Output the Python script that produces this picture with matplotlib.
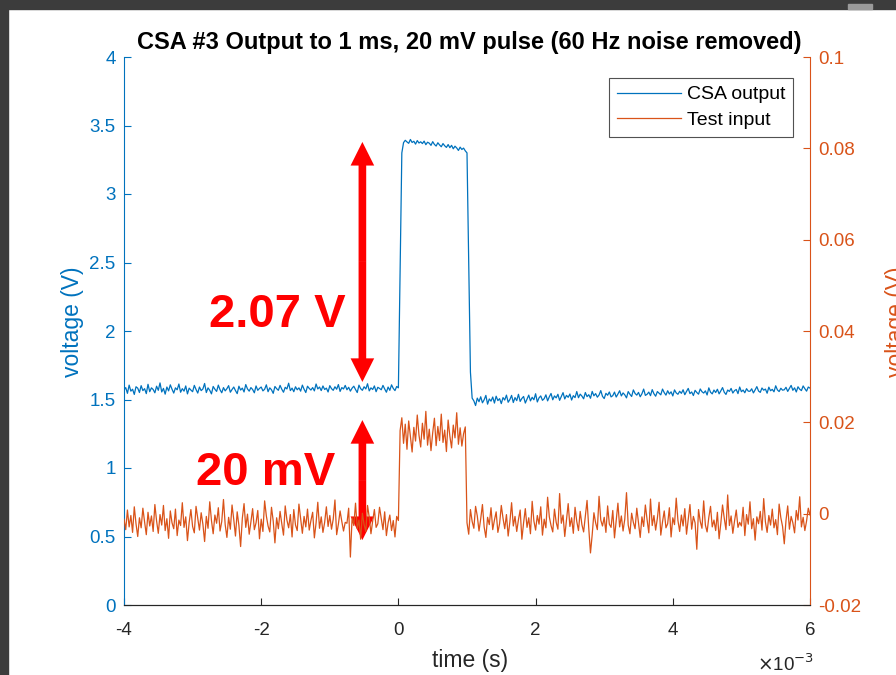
import numpy as np
import matplotlib
matplotlib.use("Agg")
import matplotlib.pyplot as plt
from matplotlib.patches import Rectangle, FancyArrowPatch, ArrowStyle
from matplotlib.ticker import FuncFormatter

plt.rcParams['font.family'] = ['Liberation Sans', 'DejaVu Sans']
plt.rcParams['axes.unicode_minus'] = False

# ---------------- data ----------------
sample_step_s = 25e-6
start_s = -4e-3

# CSA output (mV)
csa_pre_mV = [
    1569,1587,1545,1605,1561,1575,1537,1593,1583,1551,
    1601,1565,1579,1543,1611,1557,1585,1573,1549,1597,
    1567,1621,1555,1581,1539,1591,1563,1607,1575,1547,
    1585,1571,1613,1553,1579,1561,1599,1541,1583,1569,
    1557,1603,1573,1547,1591,1565,1577,1617,1551,1585,
    1567,1541,1595,1575,1559,1605,1571,1549,1587,1563,
    1579,1601,1553,1573,1591,1565,1543,1597,1569,1583,
    1555,1609,1577,1561,1587,1573,1549,1599,1567,1581,
    1591,1563,1575,1607,1557,1585,1571,1545,1595,1579,
    1567,1603,1575,1553,1589,1577,1619,1565,1583,1557,
    1593,1571,1585,1561,1605,1575,1551,1597,1581,1569,
    1587,1563,1613,1577,1591,1565,1599,1573,1583,1555,
    1601,1579,1567,1593,1575,1609,1559,1587,1577,1603,
    1571,1589,1561,1583,1597,1573,1551,1605,1579,1567,
    1593,1577,1615,1563,1585,1573,1599,1557,1589,1581,
    1571,1603,1577,1553,1591,1567,1607,1581,1565,1595,
]
csa_pulse_mV = [
    1585,2450,3300,3375,
    3392,3380,3370,3398,3376,3385,3364,3390,3372,3381,
    3368,3386,3360,3378,3371,3355,3382,3362,3350,3374,
    3358,3345,3368,3352,3340,3361,3338,3355,3330,3349,
    3336,3318,3342,3325,3335,3315,
]
csa_post_mV = [
    3300,2500,1700,1510,1490,
    1456,1510,1484,1520,1476,1498,1530,1466,1504,1488,1518,1474,1524,1492,1506,1470,1514,1496,1532,1480,
    1500,1530,1478,1514,1492,1538,1486,1508,1522,1474,1504,1532,1490,1516,1498,1542,1482,1512,1526,1494,
    1506,1534,1490,1520,1544,1498,1526,1512,1538,1494,1522,1550,1504,1530,1516,1540,1496,1528,1514,1558,
    1513,1539,1525,1505,1551,1521,1535,1509,1559,1527,1543,1517,1533,1565,1523,1507,1545,1531,1555,1519,
    1528,1554,1518,1540,1564,1526,1548,1534,1512,1558,1538,1522,1570,1544,1532,1552,1520,1542,1576,1530,
    1538,1554,1528,1572,1542,1524,1558,1546,1534,1576,1550,1532,1564,1540,1556,1526,1570,1548,1538,1560,
    1545,1571,1535,1559,1581,1543,1555,1529,1567,1551,1539,1577,1557,1547,1563,1533,1585,1553,1541,1569,
    1551,1575,1541,1563,1587,1553,1537,1569,1559,1581,1547,1565,1573,1543,1591,1557,1569,1549,1579,1561,
    1560,1578,1548,1570,1594,1562,1552,1584,1568,1576,1546,1590,1564,1574,1556,1600,1570,1558,1582,1568,
    1571,1589,1559,1581,1603,1567,1585,1555,1593,1575,1565,1599,1579,1561,1591,1583,
]

# Test input (mV)
test_pre_mV = [
    -1.2,-3.5,0.8,-2.9,-0.4,-4.1,1.5,-2.2,-5.0,-0.9,
    -3.1,1.2,-1.8,-4.6,0.3,-2.7,-0.5,-3.9,2.0,-1.6,
    -4.3,-0.2,-2.5,1.8,-3.7,-1.1,-5.4,0.6,-2.0,-3.3,
    1.0,-4.8,-1.4,-2.6,2.4,-3.0,-0.7,-5.9,-1.9,0.9,
    -2.8,-4.2,1.6,-1.0,-3.6,0.2,-2.3,-6.1,-0.6,-3.2,
    2.6,-1.5,-4.4,-0.3,-2.1,1.3,-3.8,-1.7,3.1,-2.4,
    -5.2,-0.8,-3.4,1.9,-1.3,-4.9,0.4,-2.6,-7.2,-1.0,
    2.2,-3.0,-0.1,-4.5,-1.8,1.1,-3.5,-2.0,0.7,-5.5,
    -1.2,-3.9,2.8,-0.5,-2.7,-4.0,1.4,-1.6,-6.4,-0.9,
    -3.3,0.5,-2.2,-4.7,1.7,-1.4,-3.1,-0.2,-5.1,0.9,
    -2.5,-3.7,2.1,-1.1,-4.3,-0.6,-2.9,1.0,-3.6,-1.5,
    0.3,-5.3,-2.0,2.5,-3.2,-0.7,-4.1,-1.9,1.5,-2.8,
    -0.4,-3.4,-1.2,3.0,-4.6,-2.3,0.6,-1.7,-3.8,-1.9,
    -2.1,1.2,-9.5,-0.9,-2.6,2.3,-3.3,-1.4,-5.6,0.1,
    -2.4,-3.9,1.8,-0.8,-4.4,-1.6,0.9,-3.0,-2.2,1.4,
    -1.1,-3.5,0.4,-4.8,-2.0,-0.3,-3.7,-1.5,-5.1,-0.6,
]
test_pulse_mV = [
    -1.5,
    18.2,21.0,15.4,19.6,14.1,20.3,16.8,13.5,18.9,
    15.9,21.6,17.2,14.6,19.8,16.3,22.4,15.0,18.5,13.8,
    17.7,20.9,14.9,19.1,16.0,21.8,15.6,18.3,13.6,20.5,
    17.0,14.4,19.4,16.6,22.1,15.2,18.8,14.8,17.5,19.0,
]
test_post_mV = [
    -2.0,-4.5,0.9,-1.7,-3.2,1.6,-0.5,-3.8,-1.1,2.0,-2.9,-5.2,-0.8,-2.4,1.3,-3.5,-1.4,0.4,-4.1,-2.2,
    1.8,-1.0,-3.3,-0.2,-4.9,-1.8,2.4,-2.7,-0.6,-3.9,-1.3,0.8,-5.6,-2.0,1.1,-3.0,-0.9,-4.4,2.7,-1.6,
    -3.6,-0.4,-2.3,1.5,-4.7,-1.2,-3.1,3.6,-0.7,-2.6,-4.0,1.0,-1.9,-3.4,4.4,-2.1,-0.3,-5.0,-1.5,2.2,
    -2.8,-0.9,-4.3,1.4,-1.7,-3.7,0.5,-2.4,-4.0,-0.6,2.9,-3.2,-8.6,-4.6,0.2,-2.0,-3.5,3.8,-1.4,-2.7,
    -0.8,-4.1,1.7,-2.3,-3.0,0.7,-5.3,-1.6,2.3,-2.9,-0.5,-3.8,-1.2,4.6,-2.5,-4.4,0.1,-1.9,-3.3,1.2,
    -2.1,-5.2,-0.7,-2.8,1.9,-1.3,-4.2,3.2,-2.6,-0.4,-3.6,-1.0,2.5,-4.7,-1.8,0.6,-3.1,-2.2,1.3,-5.1,
    -0.9,-2.4,3.4,-1.5,-3.9,-0.3,-2.7,1.1,-4.5,-1.2,2.0,-3.4,-0.6,-2.0,-7.8,0.9,-1.7,-3.2,2.8,-2.5,
    -4.0,-0.8,1.6,-2.9,-1.4,-3.7,0.3,-5.5,-2.1,1.9,-1.0,-3.5,4.1,-2.6,-0.5,-4.3,-1.6,0.8,-3.0,-1.9,
    -2.7,1.4,-4.8,-0.2,-2.3,2.6,-3.3,-1.1,-5.8,-0.7,-2.2,0.5,-3.6,3.3,-1.8,-4.1,-0.4,-2.5,1.0,-3.1,
    -1.3,-4.6,2.1,-0.9,-2.8,-6.6,-1.5,1.7,-3.4,-0.6,-2.0,-4.2,0.7,-1.4,3.7,-2.9,-0.8,-3.7,-1.6,1.2,
    -0.3,
]

xtick_vals_ms = [-4, -2, 0, 2, 4, 6]
left_ticks = [0, 0.5, 1, 1.5, 2, 2.5, 3, 3.5, 4]
right_ticks = [-0.02, 0, 0.02, 0.04, 0.06, 0.08, 0.1]
annot_labels = ["2.07 V", "20 mV"]

csa_V = np.array(csa_pre_mV + csa_pulse_mV + csa_post_mV) / 1000.0
test_V = np.array(test_pre_mV + test_pulse_mV + test_post_mV) / 1000.0
t = start_s + np.arange(len(csa_V)) * sample_step_s

# ---------------- style ----------------
BLUE = '#0072BD'
ORANGE = '#D95319'
DARK = '#262626'
RED = '#ff0000'
W, H = 896, 675

fig = plt.figure(figsize=(W / 100, H / 100), dpi=100)
fig.patch.set_facecolor('white')
# dark frame strips of the screenshot
fig.patches.append(Rectangle((0, 1 - 9 / H), 1, 9 / H, transform=fig.transFigure,
                             color='#3c3c3c', zorder=0))
fig.patches.append(Rectangle((0, 0), 8 / W, 1, transform=fig.transFigure,
                             color='#3c3c3c', zorder=0))
fig.patches.append(Rectangle((848 / W, 1 - 9 / H), 24 / W, 5 / H, transform=fig.transFigure,
                             color='#9a9a9a', zorder=1))

ax = fig.add_axes([124 / W, 1 - 605 / H, 686 / W, 548 / H])
ax2 = ax.twinx()

l1, = ax.plot(t, csa_V, color=BLUE, lw=0.9, label='CSA output')
l2, = ax2.plot(t, test_V, color=ORANGE, lw=0.9, label='Test input')

ax.set_xlim(-4e-3, 6e-3)
ax.set_ylim(0, 4)
ax2.set_ylim(-0.02, 0.1)
ax.set_xticks([v * 1e-3 for v in xtick_vals_ms])
ax.xaxis.set_major_formatter(FuncFormatter(lambda v, p: f'{v * 1e3:g}'))
ax.set_yticks(left_ticks)
ax.set_yticklabels([f'{v:g}' for v in left_ticks])
ax2.set_yticks(right_ticks)
ax2.set_yticklabels([f'{v:g}' for v in right_ticks])

fs_tick = 13.5
ax.tick_params(axis='x', direction='in', length=5, width=0.8, colors=DARK,
               labelsize=fs_tick, pad=12, top=False)
ax.tick_params(axis='y', direction='in', length=5, width=0.8, colors=BLUE,
               labelsize=fs_tick, pad=6)
ax2.tick_params(axis='y', direction='in', length=5, width=0.8, colors=ORANGE,
                labelsize=fs_tick, pad=6)

for a in (ax, ax2):
    a.spines['top'].set_visible(False)
    a.spines['bottom'].set_color(DARK)
    a.spines['bottom'].set_linewidth(0.8)
ax.spines['left'].set_color(BLUE)
ax.spines['right'].set_visible(False)
ax2.spines['left'].set_visible(False)
ax2.spines['right'].set_color(ORANGE)
ax.spines['left'].set_linewidth(0.8)
ax2.spines['right'].set_linewidth(0.8)

fig.text(469 / W, 1 - 43 / H, 'CSA #3 Output to 1 ms, 20 mV pulse (60 Hz noise removed)',
         ha='center', va='center', fontsize=17, fontweight='bold', color='black')
fig.text(470 / W, 1 - 661 / H, 'time (s)', ha='center', va='center', fontsize=16.5, color=DARK)
fig.text(786 / W, 1 - 664 / H, r'$\times$10$^{-3}$', ha='center', va='center',
         fontsize=13.5, color=DARK)
fig.text(72 / W, 1 - 322 / H, 'voltage (V)', ha='center', va='center', rotation=90,
         fontsize=16.5, color=BLUE)
fig.text(896 / W, 1 - 322 / H, 'voltage (V)', ha='center', va='center', rotation=90,
         fontsize=16.5, color=ORANGE)

leg = ax2.legend([l1, l2], ['CSA output', 'Test input'], loc='upper right',
                 bbox_to_anchor=(793 / W, 1 - 78 / H), bbox_transform=fig.transFigure,
                 fontsize=14, frameon=True, fancybox=False, handlelength=3.3,
                 borderpad=0.4, labelspacing=0.4, handletextpad=0.3, borderaxespad=0)
leg.get_frame().set_edgecolor(DARK)
leg.get_frame().set_linewidth(0.8)

# red double-headed arrows (two filled single-headed halves each)
arrow_x = -0.525e-3
arrow_spans = [(1.628, 3.380), (0.474, 1.350)]
style = ArrowStyle('Simple', head_length=17, head_width=17, tail_width=5.5)
for lo, hi in arrow_spans:
    mid = (lo + hi) / 2
    for end in (lo, hi):
        p = FancyArrowPatch((arrow_x, mid), (arrow_x, end), arrowstyle=style,
                            mutation_scale=1, color=RED, lw=0, shrinkA=0, shrinkB=0,
                            zorder=5)
        ax.add_patch(p)

ax.text(-1.77e-3, 2.12, annot_labels[0], color=RED, fontsize=34, fontweight='bold',
        ha='center', va='center', zorder=6)
ax.text(-1.93e-3, 0.96, annot_labels[1], color=RED, fontsize=34, fontweight='bold',
        ha='center', va='center', zorder=6)

fig.savefig('out.png', dpi=100)
